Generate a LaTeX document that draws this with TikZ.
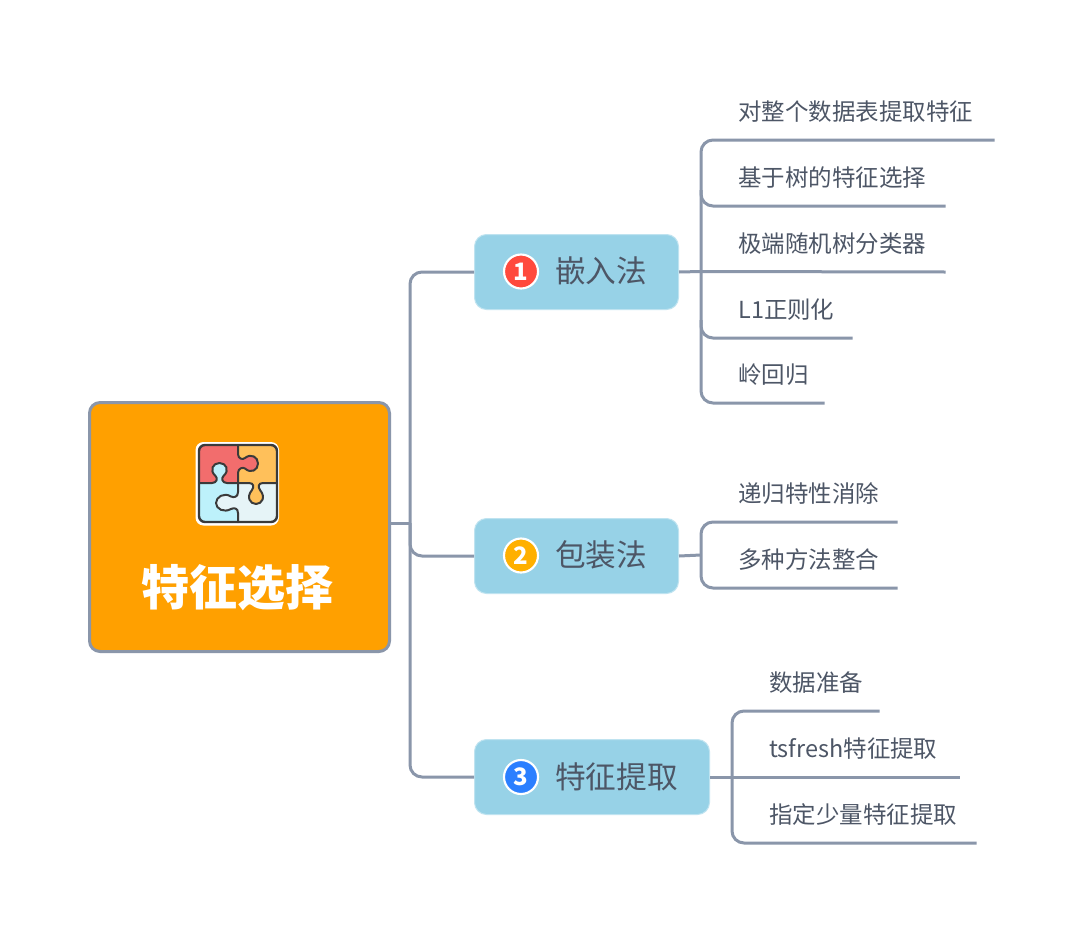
\documentclass[tikz,border=0pt]{standalone}
\usepackage{fontspec}
\setmainfont{Noto Sans CJK SC}
\begin{document}
\begin{tikzpicture}[x=0.75pt,y=-0.75pt,
  conn/.style={draw=lineC,line width=2.25pt,rounded corners=9pt},
  topic/.style={draw=topicB,fill=topicC,line width=0.75pt,rounded corners=9pt,inner sep=0pt,anchor=north west},
  toptext/.style={text=textC,font=\fontsize{23}{27}\selectfont,inner sep=0pt,anchor=west},
  leaf/.style={text=textC,font=\fontsize{17.6}{22}\selectfont,inner sep=0pt,anchor=south west,minimum height=42pt,align=left},
  badge/.style={circle,draw=white,line width=1.6pt,minimum size=25.5pt,inner sep=0pt,text=white,font=\fontsize{18}{20}\selectfont\bfseries},
  pline/.style={draw=puzD,line width=1.5pt,line join=round,line cap=round}]
\definecolor{lineC}{HTML}{8A96AA}
\definecolor{topicC}{HTML}{97D2E7}
\definecolor{topicB}{HTML}{BFE3F0}
\definecolor{textC}{HTML}{4D5666}
\definecolor{mainC}{HTML}{FFA000}
\definecolor{puzD}{HTML}{3A3A3A}
\definecolor{puzR}{HTML}{F26D6D}
\definecolor{puzO}{HTML}{FFC05A}
\definecolor{puzC}{HTML}{BDF1FB}
\definecolor{puzP}{HTML}{E6F4F7}
\useasboundingbox (0,0) rectangle (1080,931);
\fill[white] (0,0) rectangle (1080,931);
% main
\node[draw=lineC,fill=mainC,line width=2.25pt,rounded corners=8pt,inner sep=0pt,anchor=north west,minimum width=225pt,minimum height=186.75pt] (root) at (88,401) {};
\node[text=white,inner sep=0pt,font=\fontsize{36}{40}\selectfont\bfseries] (rootT) at (237,588) {特征选择};
% puzzle
\fill[white,rounded corners=6pt] (195.5,442) rectangle (279,525.5);
\begin{scope}
\clip[rounded corners=4.5pt] (199,445) rectangle (277,522);
\fill[puzR] (199,445) rectangle (238,483);
\fill[puzO] (238,445) rectangle (277,483);
\fill[puzC] (199,483) rectangle (238,522);
\fill[puzP] (238,483) rectangle (277,522);
\end{scope}
\def\edgeA{(212,483) .. controls (217,483) and (218,478) .. (215.5,476) .. controls (209,470) and (213,463) .. (219.5,463) .. controls (226,463) and (230,470) .. (223.5,476) .. controls (221,478) and (222,483) .. (227,483)}
\def\edgeB{(238,454) .. controls (238,459) and (243,460) .. (245,458) .. controls (251,453) and (258,457) .. (258,463.5) .. controls (258,470) and (251,474) .. (245,468.5) .. controls (243,467) and (238,468) .. (238,473)}
\def\edgeC{(249,483) .. controls (254,483) and (254,487) .. (252,490) .. controls (246,497) and (250,504) .. (256,504) .. controls (262,504) and (266,497) .. (260,490) .. controls (258,487) and (258,483) .. (263,483)}
\def\edgeD{(238,492) .. controls (238,497) and (234,498) .. (231,496.5) .. controls (224,492) and (216,497) .. (216,503) .. controls (216,509) and (224,513) .. (231,509) .. controls (234,507.5) and (238,508) .. (238,513)}
\fill[puzC] \edgeA -- cycle;
\fill[puzR] \edgeB -- cycle;
\fill[puzO] \edgeC -- cycle;
\fill[puzP] \edgeD -- cycle;
\draw[pline] (199,483) -- \edgeA -- (238,483);
\draw[pline] (238,445) -- \edgeB -- (238,483);
\draw[pline] (238,483) -- \edgeC -- (277,483);
\draw[pline] (238,483) -- \edgeD -- (238,522);
\draw[pline,line width=1.8pt,rounded corners=4.5pt] (199,445) rectangle (277,522);
% topics
\node[topic,minimum width=153pt,minimum height=56.25pt] (t1) at (474,234) {};
\node[topic,minimum width=153pt,minimum height=56.25pt] (t2) at (474,518) {};
\node[topic,minimum width=176.25pt,minimum height=56.25pt] (t3) at (474,739) {};
\node[badge,fill={rgb,255:red,255;green,74;blue,61}] (b1) at (521,271.5) {1};
\node[badge,fill={rgb,255:red,255;green,176;blue,0}] (b2) at (521,555.5) {2};
\node[badge,fill={rgb,255:red,43;green,127;blue,255}] (b3) at (521,777) {3};
\node[toptext] (l1) at (555,271) {嵌入法};
\node[toptext] (l2) at (555,555) {包装法};
\node[toptext] (l3) at (555,777) {特征提取};
% leaves
\node[leaf,minimum width=192pt,text width=192pt] (a1) at (738,140) {对整个数据表提取特征};
\node[leaf,minimum width=155.25pt,text width=155.25pt] (a2) at (738,206) {基于树的特征选择};
\node[leaf,minimum width=155.25pt,text width=155.25pt] (a3) at (738,272) {极端随机树分类器};
\node[leaf,minimum width=85.5pt,text width=85.5pt] (a4) at (738,338) {L1正则化};
\node[leaf,minimum width=64.5pt,text width=64.5pt] (a5) at (738,403) {岭回归};
\node[leaf,minimum width=119.25pt,text width=119.25pt] (b6) at (738,522) {递归特性消除};
\node[leaf,minimum width=119.25pt,text width=119.25pt] (b7) at (738,588) {多种方法整合};
\node[leaf,minimum width=82.5pt,text width=82.5pt] (c1) at (769,711) {数据准备};
\node[leaf,minimum width=142.5pt,text width=142.5pt] (c2) at (769,777) {tsfresh特征提取};
\node[leaf,minimum width=155.25pt,text width=155.25pt] (c3) at (769,843) {指定少量特征提取};
% hubs
\coordinate (hubR) at (410,523);
\coordinate (hub1) at (701,271.5);
\coordinate (hub2) at (701,555);
\coordinate (hub3) at (732,777);
% root connectors
\draw[conn] (root.east |- hubR) -- (hubR);
\draw[conn] (t1.west) -| (hubR) |- (t2.west);
\draw[conn] (hubR) |- (t3.west);
% tree 1
\draw[conn,rounded corners=0pt] (t1.east) -- (hub1);
\draw[conn] (a1.south east) -- (a1.south east -| hub1) -- (a5.south east -| hub1) -- (a5.south east);
\draw[conn] (hub1 |- 0,190) -- (a2.south east -| hub1) -- (a2.south east);
\draw[conn,rounded corners=0pt] (hub1) -- (a3.south east);
\draw[conn] (hub1 |- 0,320) -- (a4.south east -| hub1) -- (a4.south east);
% tree 2
\draw[conn,rounded corners=0pt] (t2.east) -- (hub2);
\draw[conn] (b6.south east) -- (b6.south east -| hub2) -- (b7.south east -| hub2) -- (b7.south east);
% tree 3
\draw[conn,rounded corners=0pt] (t3.east) -- (c2.south east);
\draw[conn] (c1.south east) -- (c1.south east -| hub3) -- (c3.south east -| hub3) -- (c3.south east);
\end{tikzpicture}
\end{document}
